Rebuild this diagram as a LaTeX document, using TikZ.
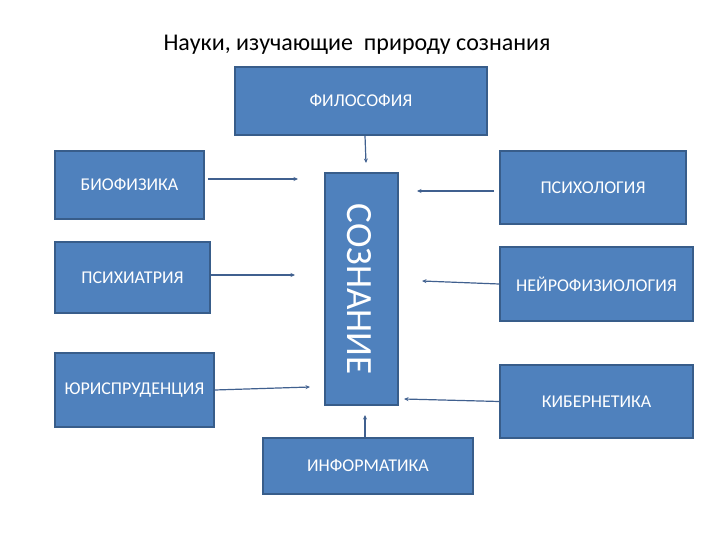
\documentclass[tikz,border=0pt]{standalone}
\usepackage{fontspec}
\setmainfont{Carlito}
\usetikzlibrary{arrows.meta}
\definecolor{boxfill}{HTML}{4F81BD}
\definecolor{boxline}{HTML}{385D8A}
\definecolor{arrowc}{HTML}{40608F}
\tikzset{
  sbox/.style={draw=boxline, line width=1.6pt, fill=boxfill, text=white, font=\fontsize{18}{20}\selectfont, inner sep=0pt, anchor=center},
  conn/.style={draw=arrowc, line width=1.2pt, -{Stealth[length=4.5pt,width=4pt]}}
}
\begin{document}
\begin{tikzpicture}[x=1pt,y=-1pt]
\useasboundingbox (0,0) rectangle (720,540);
\node (title) at (357,45) {\fontsize{24}{28}\selectfont Науки, изучающие\ \ природу сознания};
\node[sbox, minimum width=252pt, minimum height=68pt] (phil) at (361,101) {ФИЛОСОФИЯ};
\node[sbox, minimum width=149pt, minimum height=68pt] (bio) at (129.5,185) {\raisebox{-2pt}{БИОФИЗИКА}};
\node[sbox, minimum width=155pt, minimum height=71pt] (psy) at (132.5,277.5) {\raisebox{-1.5pt}{ПСИХИАТРИЯ}};
\node[sbox, minimum width=159pt, minimum height=74pt] (jur) at (134.5,390) {\raisebox{-2pt}{ЮРИСПРУДЕНЦИЯ}};
\node[sbox, minimum width=73pt, minimum height=232pt] (soz) at (361.5,289) {};
\node[text=white, rotate=-90, font=\fontsize{37}{40}\selectfont] (sozt) at (359,289) {СОЗНАНИЕ};
\node[sbox, minimum width=186pt, minimum height=73pt] (pso) at (593,187.5) {ПСИХОЛОГИЯ};
\node[sbox, minimum width=193pt, minimum height=74pt] (neu) at (596.5,284) {НЕЙРОФИЗИОЛОГИЯ};
\node[sbox, minimum width=193pt, minimum height=73pt] (kib) at (596.5,401.5) {КИБЕРНЕТИКА};
\node[sbox, minimum width=210pt, minimum height=56pt] (inf) at (368,466) {ИНФОРМАТИКА};
\coordinate (e1) at (366,163);
\coordinate (e2) at (298,179);
\coordinate (e3) at (295,275);
\coordinate (e4) at (310,387);
\coordinate (e5) at (417,191);
\coordinate (e6) at (422,281);
\coordinate (e7) at (404,399);
\coordinate (e8) at (365,415);
\draw[conn] ([xshift=4pt]phil.south) -- (e1);
\draw[conn] ([xshift=3pt,yshift=6pt]bio.east) -- (e2);
\draw[conn] ([yshift=2.5pt]psy.east) -- (e3);
\draw[conn] (jur.east) -- (e4);
\draw[conn] ([xshift=-5pt,yshift=-3.5pt]pso.west) -- (e5);
\draw[conn] (neu.west) -- (e6);
\draw[conn] (kib.west) -- (e7);
\draw[conn] ([xshift=-3pt]inf.north) -- (e8);
\end{tikzpicture}
\end{document}
